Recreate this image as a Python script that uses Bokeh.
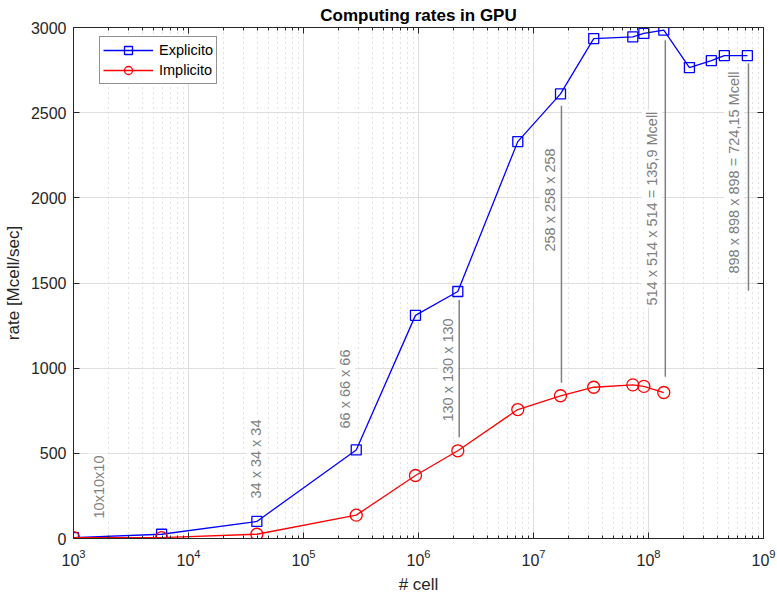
import math
from bokeh.plotting import figure
from bokeh.models import LogAxis, LinearAxis, Range1d, FixedTicker, Legend, LegendItem
from bokeh.core.properties import value
from bokeh.embed import file_html
from bokeh.resources import INLINE

# ---- data ----
cells = [1000, 5832, 39304, 287496, 941192, 2197000, 7301384, 17173512,
         33386248, 73034632, 91125000, 135796744, 226981000, 351895816,
         456533000, 724150792]
explicito = [5, 25, 100, 520, 1310, 1450, 2330, 2610,
             2935, 2945, 2965, 2985, 2765, 2805, 2835, 2835]
implicito_cells = cells[:12]
implicito = [5, 5, 25, 137, 370, 515, 757, 838, 888, 902, 893, 857]

ann_text = ["10x10x10", "34 x 34 x 34", "66 x 66 x 66", "130 x 130 x 130",
            "258 x 258 x 258", "514 x 514 x 514 = 135,9 Mcell",
            "898 x 898 x 898 = 724,15 Mcell"]
ann_x = [1650, 39000, 231000, 1.81e6, 1.40e7, 1.07e8, 5.55e8]
ann_y = [106, 223, 634, 675, 1673, 1356, 1544]

line_x = [2.26e6, 1.75e7, 1.40e8, 7.4e8]
line_y0 = [1400, 2540, 2925, 2790]
line_y1 = [595, 915, 950, 1455]

x_major = [10 ** e for e in range(3, 10)]
x_minor = [m * 10 ** e for e in range(3, 9) for m in range(2, 10)]
y_ticks = [0, 500, 1000, 1500, 2000, 2500, 3000]

FONT = "Liberation Sans"
AX = "#262626"

p = figure(width=777, height=603, x_axis_type="log",
           x_range=Range1d(1e3, 1e9), y_range=Range1d(0, 3000),
           output_backend="svg", toolbar_location=None,
           min_border_left=72, min_border_right=14,
           min_border_top=27, min_border_bottom=65,
           title="Computing rates in GPU")

p.title.text_font = FONT
p.title.text_font_size = "17px"
p.title.text_font_style = "bold"
p.title.text_color = "black"
p.title.align = "center"
p.title.standoff = 6
p.title.offset = 0

xt = FixedTicker(ticks=x_major, minor_ticks=x_minor)
yt = FixedTicker(ticks=y_ticks)
p.xaxis.ticker = xt
p.yaxis.ticker = yt

for ax in [p.xaxis[0], p.yaxis[0]]:
    ax.major_tick_in = 6
    ax.major_tick_out = 0
    ax.minor_tick_in = 3
    ax.minor_tick_out = 0
    ax.axis_line_color = AX
    ax.major_tick_line_color = AX
    ax.minor_tick_line_color = AX
    ax.major_label_text_font = FONT
    ax.major_label_text_font_size = "16px"
    ax.major_label_text_color = "#262626"
    ax.axis_label_text_font = FONT
    ax.axis_label_text_font_size = "17px"
    ax.axis_label_text_font_style = "normal"
    ax.axis_label_text_color = "#262626"
p.yaxis.minor_tick_line_color = None
p.xaxis.axis_label = "# cell"
p.yaxis.axis_label = "rate [Mcell/sec]"
p.xaxis.major_label_standoff = 10
p.yaxis.major_label_standoff = 7
p.xaxis.axis_label_standoff = 6
p.yaxis.axis_label_standoff = 5

top = LogAxis(ticker=xt, major_tick_in=6, major_tick_out=0, minor_tick_in=3,
              minor_tick_out=0, major_label_text_font_size="1px",
              major_label_text_color=None,
              major_label_standoff=0, axis_line_color=AX,
              major_tick_line_color=AX, minor_tick_line_color=AX)
right = LinearAxis(ticker=yt, major_tick_in=6, major_tick_out=0,
                   minor_tick_line_color=None, major_label_text_font_size="1px",
                   major_label_text_color=None,
                   major_label_standoff=0, axis_line_color=AX,
                   major_tick_line_color=AX)
p.add_layout(top, "above")
p.add_layout(right, "right")

p.outline_line_color = AX

p.xgrid.grid_line_color = "#dedede"
p.ygrid.grid_line_color = "#dedede"
p.xgrid.minor_grid_line_color = "#c4c4c4"
p.xgrid.minor_grid_line_dash = "1 4"

# annotation texts (white background masks the grid)
p.text(x=ann_x, y=ann_y, text=ann_text, angle=math.pi / 2,
       text_align="left", text_baseline="middle",
       text_color="#808080", text_font=value(FONT), text_font_size="14.5px",
       background_fill_color="white", padding=2)

# annotation lines
p.segment(x0=line_x, y0=line_y0, x1=line_x, y1=line_y1,
          line_color="#808080", line_width=1.5)

# data
l1 = p.line(cells, explicito, line_color="blue", line_width=1.3)
s1 = p.scatter(cells, explicito, marker="square", size=10, line_color="blue",
               fill_color=None, line_width=1.3)
l2 = p.line(implicito_cells, implicito, line_color="red", line_width=1.3)
s2 = p.scatter(implicito_cells, implicito, marker="circle", size=12,
               line_color="red", fill_color=None, line_width=1.3)

legend = Legend(items=[LegendItem(label="Explicito", renderers=[l1, s1]),
                       LegendItem(label="Implicito", renderers=[l2, s2])],
                location=(26, 454))
legend.label_text_font = FONT
legend.label_text_font_size = "14.5px"
legend.label_text_color = "black"
legend.glyph_width = 50
legend.glyph_height = 20
legend.label_height = 20
legend.label_standoff = 6
legend.padding = 3
legend.spacing = 0
legend.margin = 0
legend.border_line_color = "#262626"
legend.border_line_width = 1
legend.background_fill_alpha = 1
p.add_layout(legend, "center")

open("out.html", "w").write(file_html(p, INLINE))
